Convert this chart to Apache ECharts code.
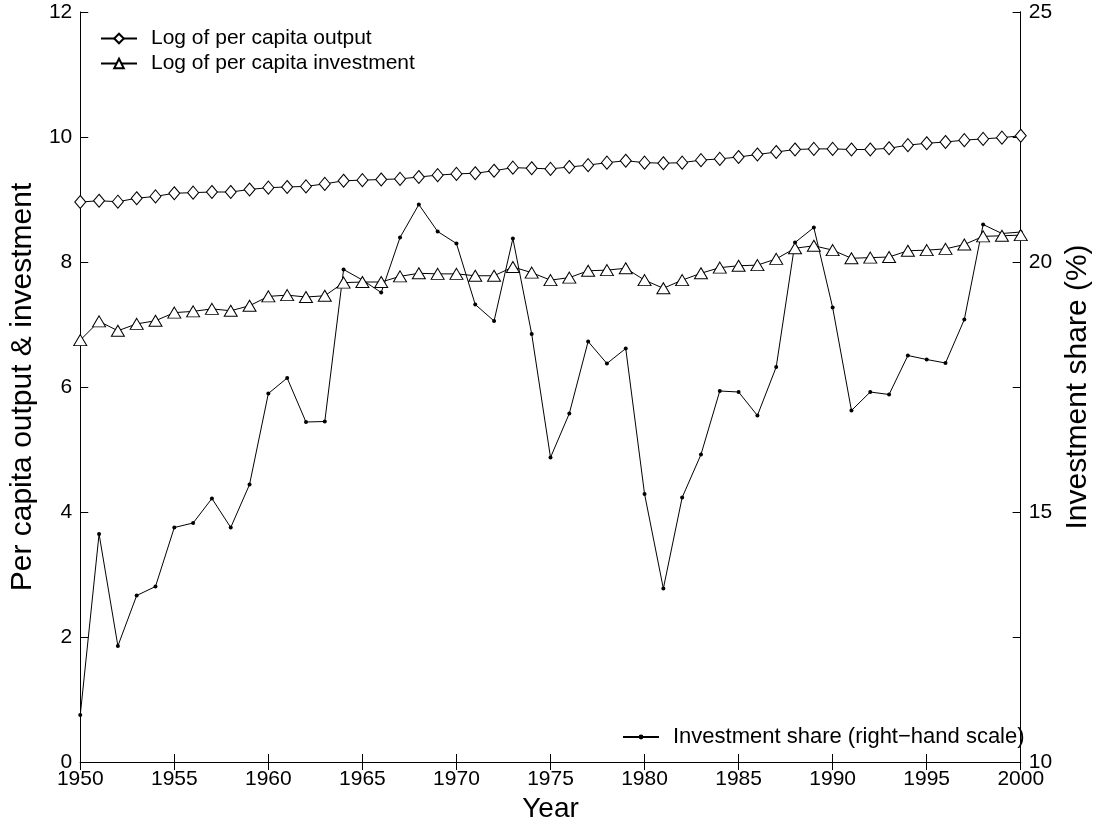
<!DOCTYPE html>
<html>
<head>
<meta charset="utf-8">
<script src="https://cdn.jsdelivr.net/npm/echarts@6/dist/echarts.min.js"></script>
<style>
  html, body { margin: 0; padding: 0; background: #fff; }
  #chart { width: 1101px; height: 828px; }
</style>
</head>
<body>
<div id="chart"></div>
<script>
// Annual series, 1950-2000
const years = [];
for (let y = 1950; y <= 2000; y++) years.push(y);

// Log of per capita output (left scale)
const logOutput = [
  8.96, 8.98, 8.965, 9.02, 9.05, 9.10, 9.11, 9.12, 9.12, 9.16,
  9.19, 9.20, 9.21, 9.25, 9.30, 9.31, 9.32, 9.33, 9.36, 9.39,
  9.41, 9.42, 9.46, 9.51, 9.50, 9.49, 9.52, 9.55, 9.59, 9.62,
  9.59, 9.58, 9.59, 9.63, 9.65, 9.68, 9.72, 9.76, 9.80, 9.81,
  9.81, 9.80, 9.80, 9.82, 9.87, 9.90, 9.92, 9.95, 9.97, 9.99,
  10.02
];

// Log of per capita investment (left scale)
const logInvestment = [
  6.75, 7.05, 6.90, 7.01, 7.06, 7.19, 7.21, 7.25, 7.22, 7.30,
  7.45, 7.47, 7.44, 7.46, 7.67, 7.68, 7.68, 7.77, 7.82, 7.81,
  7.81, 7.78, 7.78, 7.92, 7.83, 7.71, 7.75, 7.86, 7.87, 7.90,
  7.71, 7.58, 7.71, 7.82, 7.91, 7.94, 7.95, 8.05, 8.22, 8.26,
  8.19, 8.06, 8.07, 8.08, 8.18, 8.19, 8.21, 8.28, 8.41, 8.42,
  8.43
];

// Investment share in percent (right scale)
const investShare = [
  10.94, 14.56, 12.32, 13.33, 13.51, 14.69, 14.78, 15.27, 14.69, 15.55,
  17.37, 17.68, 16.80, 16.81, 19.85, 19.64, 19.39, 20.49, 21.15, 20.61,
  20.37, 19.15, 18.82, 20.47, 18.56, 16.09, 16.97, 18.41, 17.97, 18.27,
  15.36, 13.47, 15.29, 16.15, 17.42, 17.40, 16.93, 17.90, 20.39, 20.69,
  19.09, 17.03, 17.40, 17.35, 18.13, 18.05, 17.98, 18.85, 20.75, 20.57,
  20.60
];

const pairs = (vals) => years.map((y, i) => [y, vals[i]]);

const FONT = 'Liberation Sans, Arial, Helvetica, sans-serif';
const BLACK = '#000';

const tickInside = { show: true, inside: true, length: 8, lineStyle: { color: BLACK, width: 1 } };
const blackLine = { show: true, lineStyle: { color: BLACK, width: 1 } };
const plain = (v) => String(v);

const chart = echarts.init(document.getElementById('chart'), null, { renderer: 'canvas' });

chart.setOption({
  backgroundColor: '#fff',
  animation: false,
  textStyle: { fontFamily: FONT, color: BLACK },
  grid: { left: 79, right: 73, top: 12, bottom: 66, containLabel: false },
  legend: [
    {
      data: ['Log of per capita output', 'Log of per capita investment'],
      left: 100, top: 28, padding: 0,
      orient: 'vertical',
      itemWidth: 36, itemHeight: 12, itemGap: 4,
      textStyle: { fontFamily: FONT, fontSize: 21, color: BLACK, padding: [0, 0, 0, 9] },
      selectedMode: false
    },
    {
      data: ['Investment share (right\u2212hand scale)'],
      left: 622, top: 726, padding: 0,
      itemWidth: 36, itemHeight: 6,
      textStyle: { fontFamily: FONT, fontSize: 22, color: BLACK, padding: [0, 0, 0, 9] },
      selectedMode: false
    }
  ],
  xAxis: [
    {
      type: 'value', min: 1950, max: 2000, interval: 5,
      name: 'Year', nameLocation: 'middle', nameGap: 32,
      nameTextStyle: { fontFamily: FONT, fontSize: 28, color: BLACK },
      axisLine: blackLine, axisTick: tickInside,
      axisLabel: { color: BLACK, fontFamily: FONT, fontSize: 21, margin: 7, formatter: plain },
      splitLine: { show: false }
    },
    {
      type: 'value', min: 1950, max: 2000, interval: 5, position: 'top',
      axisLine: blackLine, axisTick: tickInside,
      axisLabel: { show: false }, splitLine: { show: false }
    }
  ],
  yAxis: [
    {
      type: 'value', min: 0, max: 12, interval: 2, position: 'left',
      name: 'Per capita output & investment', nameLocation: 'middle', nameGap: 24,
      nameTextStyle: { fontFamily: FONT, fontSize: 30, color: BLACK },
      axisLine: blackLine, axisTick: tickInside,
      axisLabel: { color: BLACK, fontFamily: FONT, fontSize: 21, margin: 8, formatter: plain },
      splitLine: { show: false }
    },
    {
      type: 'value', min: 10, max: 25, interval: 5, position: 'right',
      name: 'Investment share (%)', nameLocation: 'middle', nameGap: 40,
      nameTextStyle: { fontFamily: FONT, fontSize: 30, color: BLACK },
      axisLine: blackLine, axisTick: tickInside,
      axisLabel: { color: BLACK, fontFamily: FONT, fontSize: 21, margin: 8, formatter: plain },
      splitLine: { show: false }
    },
    {
      // left-scale ticks mirrored on the right edge of the box
      type: 'value', min: 0, max: 12, interval: 2, position: 'right',
      axisLine: blackLine, axisTick: tickInside,
      axisLabel: { show: false }, splitLine: { show: false }
    }
  ],
  series: [
    {
      name: 'Log of per capita output',
      type: 'line', xAxisIndex: 0, yAxisIndex: 0,
      data: pairs(logOutput),
      symbol: 'diamond', symbolSize: [11, 13], showAllSymbol: true,
      lineStyle: { color: BLACK, width: 1 },
      itemStyle: { color: '#fff', borderColor: BLACK, borderWidth: 1 },
      z: 3
    },
    {
      name: 'Log of per capita investment',
      type: 'line', xAxisIndex: 0, yAxisIndex: 0,
      data: pairs(logInvestment),
      symbol: 'triangle', symbolSize: [13, 11], showAllSymbol: true,
      lineStyle: { color: BLACK, width: 1 },
      itemStyle: { color: '#fff', borderColor: BLACK, borderWidth: 1 },
      z: 3
    },
    {
      name: 'Investment share (right\u2212hand scale)',
      type: 'line', xAxisIndex: 0, yAxisIndex: 1,
      data: pairs(investShare),
      symbol: 'circle', symbolSize: 4, showAllSymbol: true,
      lineStyle: { color: BLACK, width: 1 },
      itemStyle: { color: BLACK, borderColor: BLACK, borderWidth: 0 },
      z: 2
    }
  ]
});
</script>
</body>
</html>
